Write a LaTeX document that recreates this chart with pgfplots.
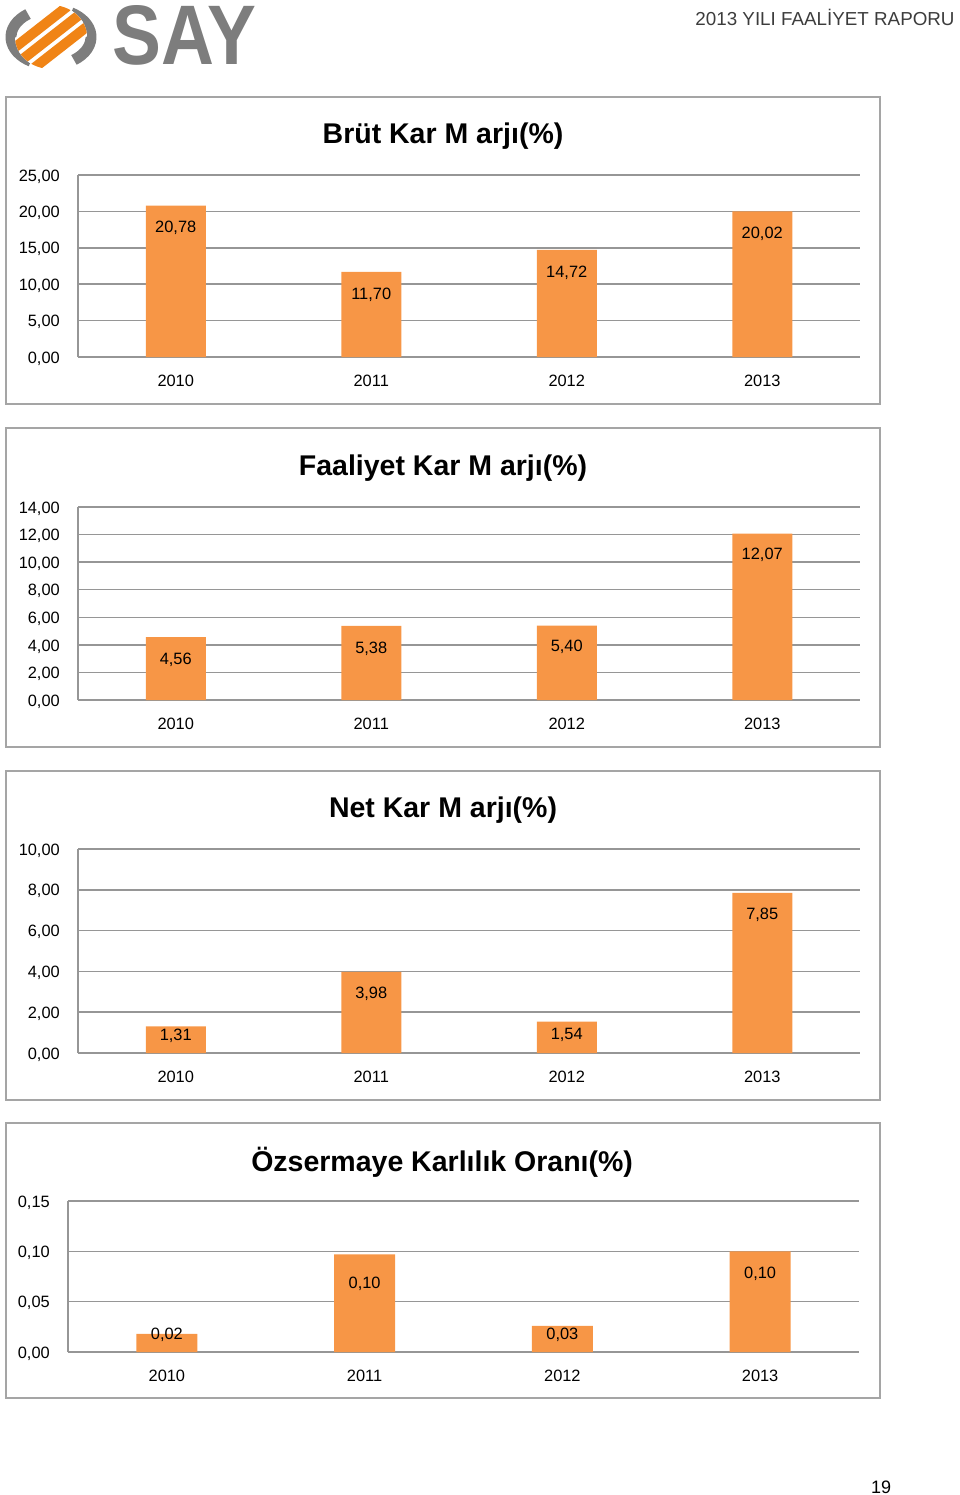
\documentclass[border=0pt]{standalone}
\usepackage{fontspec}
\setmainfont{Liberation Sans}
\usepackage{pgfplots}
\pgfplotsset{compat=1.18}
\usepackage{pgfplotstable}

\definecolor{barc}{RGB}{247,150,70}
\definecolor{gridc}{RGB}{150,150,150}
\definecolor{framec}{RGB}{165,165,165}
\definecolor{logogrey}{RGB}{125,125,125}
\definecolor{logoorange}{RGB}{240,132,22}
\definecolor{headc}{RGB}{60,60,60}

% x = year index, y = value, sh = label offset from bar top (px)
\pgfplotstableread{
x y sh
0 20.78 -21
1 11.70 -21
2 14.72 -21
3 20.02 -21
}\brut
\pgfplotstableread{
x y sh
0 4.56 -21
1 5.38 -21
2 5.40 -20
3 12.07 -20
}\faaliyet
\pgfplotstableread{
x y sh
0 1.31 -8
1 3.98 -21
2 1.54 -12
3 7.85 -20
}\net
\pgfplotstableread{
x y sh
0 0.018 1
1 0.097 -28
2 0.026 -7
3 0.100 -21
}\ozsermaye

\newcommand{\tickfont}{\fontsize{16.4}{19}\selectfont}
\pgfplotsset{say/.style={
  scale only axis, anchor=south west,
  xmin=-0.5, xmax=3.5, ymin=0, enlargelimits=false, clip=false,
  axis lines*=left, axis line style={draw=gridc, line width=1.5pt, -},
  ymajorgrids, grid style={draw=gridc, line width=1.5pt},
  major tick length=0pt,
  xtick={0,1,2,3}, xticklabels={2010,2011,2012,2013},
  tick label style={font=\tickfont, text=black},
  yticklabel style={anchor=east, inner sep=0pt, xshift=-18pt, yshift=-1.5pt},
  xticklabel style={anchor=center, inner sep=0pt, yshift=-24pt},
  /pgf/number format/fixed, /pgf/number format/fixed zerofill,
  /pgf/number format/precision=2, /pgf/number format/use comma,
  /pgf/number format/assume math mode=true,
  title style={font=\fontsize{28.5}{32}\selectfont\bfseries, anchor=center, yshift=33pt},
  ybar, bar width=60pt,
}}
\pgfplotsset{saybar/.style={
  fill=barc, draw=none,
  point meta=y,
  visualization depends on={\thisrow{sh} \as \sh},
  nodes near coords={\pgfmathprintnumber{\pgfplotspointmeta}},
  every node near coord/.append style={anchor=center, inner sep=0pt,
    yshift=\sh pt, yshift=-1.5pt, font=\tickfont, text=black},
}}

\begin{document}
\begin{tikzpicture}
\useasboundingbox (0,0) rectangle (960pt,-1495pt);

% logo
\begin{scope}[shift={(51pt,-37pt)}]
  \draw[logogrey, line width=11pt] (125:40pt and 28pt)
    arc[start angle=125, end angle=240, x radius=40pt, y radius=28pt];
  \draw[logogrey, line width=11pt] (-55:40pt and 28pt)
    arc[start angle=-55, end angle=60, x radius=40pt, y radius=28pt];
  \begin{scope}
    \clip (0,0) ellipse [x radius=36pt, y radius=32pt];
    \begin{scope}[rotate=38]
      \foreach \d in {-14,0,14} {
        \draw[white, line width=15pt] (-60pt,\d pt) -- (60pt,\d pt);
        \draw[logoorange, line width=10pt] (-60pt,\d pt) -- (60pt,\d pt);
      }
    \end{scope}
  \end{scope}
\end{scope}
\node[anchor=north west, inner sep=0pt, text=logogrey] at (112pt,-5pt)
  {\resizebox{144pt}{59pt}{\bfseries SAY}};
\node[anchor=center, inner sep=0pt, text=headc] at (825pt,-17pt)
  {\fontsize{18.8}{21}\selectfont 2013 YILI FAALİYET RAPORU};

% frames
\draw[framec, line width=1.5pt] (6pt,-97pt) rectangle (880pt,-404pt);
\draw[framec, line width=1.5pt] (6pt,-428pt) rectangle (880pt,-747pt);
\draw[framec, line width=1.5pt] (6pt,-771pt) rectangle (880pt,-1100pt);
\draw[framec, line width=1.5pt] (6pt,-1123pt) rectangle (880pt,-1398pt);

\begin{axis}[say, at={(78pt,-357pt)}, width=782pt, height=182pt,
  ymax=25, ytick={0,5,10,15,20,25},
  title={Brüt Kar M arjı(\%)}, title style={at={(axis description cs:0.4668,1)}}]
  \addplot[saybar] table[x=x, y=y] {\brut};
\end{axis}

\begin{axis}[say, at={(78pt,-700pt)}, width=782pt, height=193pt,
  ymax=14, ytick={0,2,4,6,8,10,12,14},
  title={Faaliyet Kar M arjı(\%)}, title style={at={(axis description cs:0.4668,1)}}]
  \addplot[saybar] table[x=x, y=y] {\faaliyet};
\end{axis}

\begin{axis}[say, at={(78pt,-1053pt)}, width=782pt, height=204pt,
  ymax=10, ytick={0,2,4,6,8,10},
  title={Net Kar M arjı(\%)}, title style={at={(axis description cs:0.4668,1)}}]
  \addplot[saybar] table[x=x, y=y] {\net};
\end{axis}

\begin{axis}[say, at={(68pt,-1352pt)}, width=791pt, height=151pt,
  ymax=0.15, ytick={0,0.05,0.10,0.15}, bar width=61pt,
  title={Özsermaye Karlılık Oranı(\%)}, title style={at={(axis description cs:0.473,1)}}]
  \addplot[saybar] table[x=x, y=y] {\ozsermaye};
\end{axis}

\node[anchor=center, inner sep=0pt] at (881pt,-1487pt) {\fontsize{18}{20}\selectfont 19};
\end{tikzpicture}
\end{document}
